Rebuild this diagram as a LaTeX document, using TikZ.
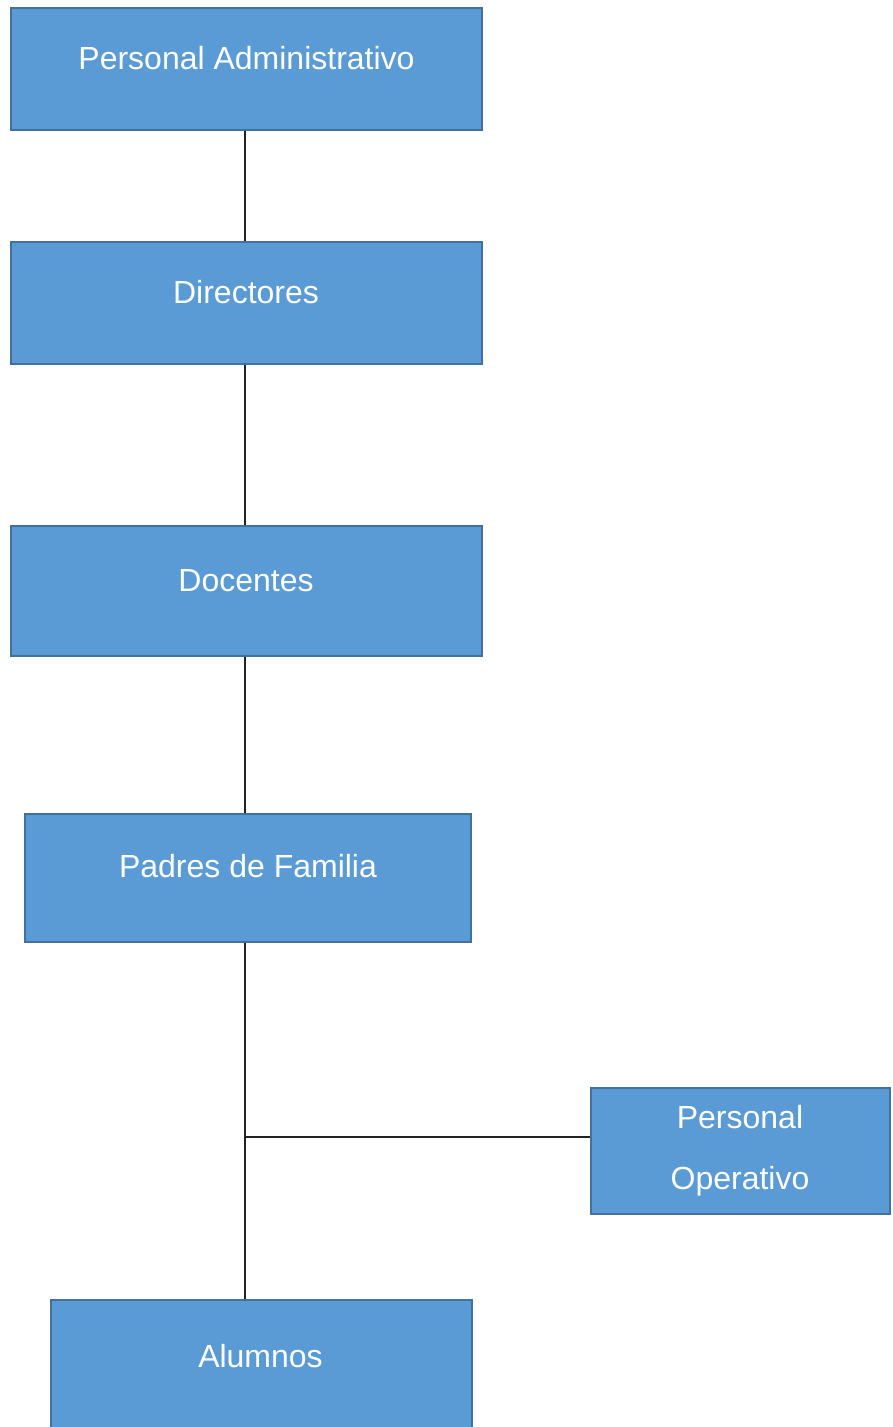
\documentclass[tikz,border=0pt]{standalone}
\usepackage{fontspec}
\setmainfont{Liberation Sans}
\definecolor{boxfill}{HTML}{5B9BD5}
\definecolor{boxline}{HTML}{41719C}
\definecolor{conn}{HTML}{222222}
\begin{document}
\begin{tikzpicture}[x=1pt,y=-1pt,
  orgbox/.style={draw=boxline, fill=boxfill, line width=2pt, rectangle, inner sep=0pt, anchor=north west},
  boxtext/.style={text=white, font=\fontsize{32}{38}\selectfont, anchor=base, inner sep=0pt},
  link/.style={draw=conn, line width=1.2pt}]
\useasboundingbox (0,0) rectangle (893,1427);
\clip (0,0) rectangle (893,1427);
\fill[white] (0,0) rectangle (893,1427);
% boxes
\node[orgbox, minimum width=471pt, minimum height=122pt] (pa) at (10,7) {};
\node[orgbox, minimum width=471pt, minimum height=122pt] (dir) at (10,241) {};
\node[orgbox, minimum width=471pt, minimum height=130pt] (doc) at (10,525) {};
\node[orgbox, minimum width=446pt, minimum height=128pt] (pf) at (24,813) {};
\node[orgbox, minimum width=299pt, minimum height=126pt] (po) at (590,1087) {};
\node[orgbox, minimum width=421pt, minimum height=150pt] (al) at (50,1299) {};
% texts
\node[boxtext] (tpa) at (246.5,69) {Personal Administrativo};
\node[boxtext] (tdir) at (246,303) {Directores};
\node[boxtext] (tdoc) at (246,591) {Docentes};
\node[boxtext] (tpf) at (248,877) {Padres de Familia};
\node[boxtext] (tpo1) at (740,1128) {Personal};
\node[boxtext] (tpo2) at (740,1189) {Operativo};
\node[boxtext] (tal) at (260.5,1367) {Alumnos};
% connectors
\coordinate (j) at (245,1137);
\path[link] (pa.south -| j) -- (dir.north -| j);
\path[link] (dir.south -| j) -- (doc.north -| j);
\path[link] (doc.south -| j) -- (pf.north -| j);
\path[link] (pf.south -| j) -- (al.north -| j);
\path[link] (j) -- (j -| po.west);
\end{tikzpicture}
\end{document}
